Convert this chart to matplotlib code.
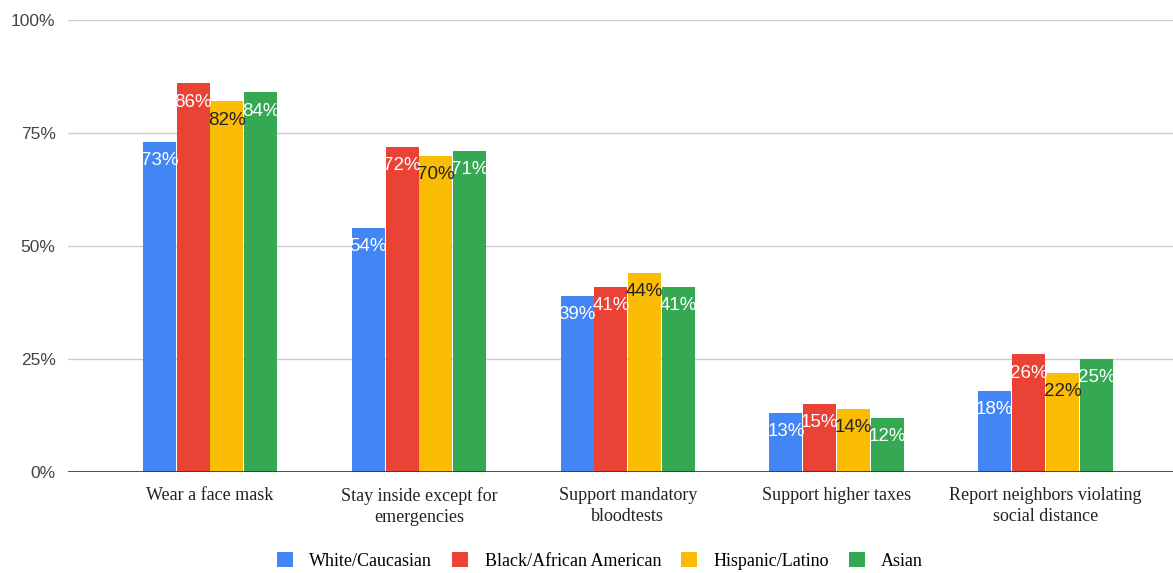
import matplotlib
matplotlib.use("Agg")
import matplotlib.pyplot as plt
import numpy as np

categories = ["Wear a face mask", "Stay inside except for\nemergencies",
              "Support mandatory\nbloodtests", "Support higher taxes",
              "Report neighbors violating\nsocial distance"]
series_names = ["White/Caucasian", "Black/African American", "Hispanic/Latino", "Asian"]
white = [73, 54, 39, 13, 18]
black = [86, 72, 41, 15, 26]
hispanic = [82, 70, 44, 14, 22]
asian = [84, 71, 41, 12, 25]
yticks = [0, 25, 50, 75, 100]
ytick_labels = ["0%", "25%", "50%", "75%", "100%"]

colors = ["#4285F4", "#EA4335", "#FBBC04", "#34A853"]
label_colors = ["white", "white", "#222222", "white"]

fig = plt.figure(figsize=(11.73, 5.73), dpi=100)
ax = fig.add_axes([68/1173, 1-472/573, 1-68/1173, (472-20)/573])

x = np.arange(len(categories))
bw = 0.158
offsets = np.array([-1.5, -0.5, 0.5, 1.5]) * (bw + 0.004)
all_series = [white, black, hispanic, asian]
for i, (vals, c) in enumerate(zip(all_series, colors)):
    ax.bar(x + offsets[i], vals, width=bw, color=c, label=series_names[i], zorder=2)
    for xi, v in zip(x + offsets[i], vals):
        ax.annotate(f"{v}%", (xi, v), xytext=(0, -13.5), textcoords="offset points",
                    ha="center", va="center", fontsize=13.5, color=label_colors[i],
                    family="Liberation Sans", zorder=3)

ax.set_ylim(0, 100)
ax.set_xlim(-0.68, 4.61)
ax.set_yticks(yticks)
ax.set_yticklabels(ytick_labels, family="Liberation Sans", fontsize=12.5, color="#444444")
ax.set_xticks(x)
ax.set_xticklabels(categories, family="Liberation Serif", fontsize=13, color="#222222",
                   linespacing=1.3)
ax.tick_params(length=0)
ax.tick_params(axis="y", pad=9)
ax.tick_params(axis="x", pad=11)
for s in ax.spines.values():
    s.set_visible(False)
ax.grid(axis="y", color="#cccccc", linewidth=1, zorder=0)
ax.axhline(0, color="#333333", linewidth=1.2, zorder=3)

leg = fig.legend(loc="center", bbox_to_anchor=(600/1173, 1-561/573), ncol=4, frameon=False,
                 prop={"family": "Liberation Serif", "size": 13},
                 handlelength=0.9, handleheight=0.9, handletextpad=0.9, columnspacing=1.1)

fig.savefig("out.png", dpi=100)
